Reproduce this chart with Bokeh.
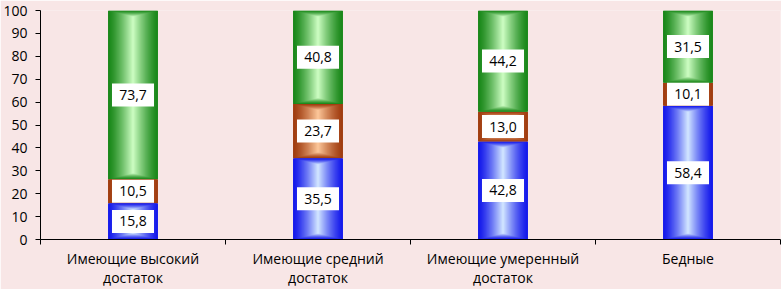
from bokeh.plotting import figure
from bokeh.models import FixedTicker, Range1d
from bokeh.core.properties import value
from bokeh.embed import file_html
from bokeh.resources import INLINE

categories = ["Имеющие высокий\nдостаток", "Имеющие средний\nдостаток",
              "Имеющие умеренный\nдостаток", "Бедные"]
blue_vals = [15.8, 35.5, 42.8, 58.4]
brown_vals = [10.5, 23.7, 13.0, 10.1]
green_vals = [73.7, 40.8, 44.2, 31.5]
y_ticks = list(range(0, 101, 10))

BG = "#F8E6E6"
FONT = "Open Sans"
W, H = 781, 289
L, R, T, B = 39, 1, 10, 49
BAR_W = 0.27

series = [
    (blue_vals, (20, 25, 235), (205, 225, 255)),
    (brown_vals, (160, 60, 15), (250, 195, 150)),
    (green_vals, (25, 135, 25), (200, 250, 190)),
]

p = figure(width=W, height=H, output_backend="svg", toolbar_location=None,
           x_range=Range1d(0, 4), y_range=Range1d(0, 100),
           min_border_left=L, min_border_right=R, min_border_top=T,
           min_border_bottom=B)
p.background_fill_color = BG
p.border_fill_color = BG
p.outline_line_color = None
p.xgrid.visible = False
p.ygrid.visible = False

fw = W - L - R
fh = H - T - B
px_x = 4 / fw      # data units per pixel, x
px_y = 100 / fh    # data units per pixel, y
VSTEP = 0.25       # vertical inset (px) per horizontal inset pixel

xs = [i + 0.5 for i in range(len(categories))]

segs = []
bottoms = [0.0] * len(categories)
for vals, edge, center in series:
    for i, v in enumerate(vals):
        segs.append((xs[i], bottoms[i], bottoms[i] + v, v, edge, center))
        bottoms[i] += v

half_px = int(BAR_W / px_x / 2)
for d in range(half_px):
    l, r, b, t, c = [], [], [], [], []
    for (x, y0, y1, v, edge, center) in segs:
        hpx = v / px_y
        if 2 * d * VSTEP >= hpx - 0.5:
            continue
        f = (d / (half_px - 1)) ** 1.3
        col = tuple(int(round(e + (cc - e) * f)) for e, cc in zip(edge, center))
        l.append(x - BAR_W / 2 + d * px_x)
        r.append(x + BAR_W / 2 - d * px_x)
        b.append(y0 + d * VSTEP * px_y)
        t.append(y1 - d * VSTEP * px_y)
        c.append("#%02x%02x%02x" % col)
    if l:
        p.quad(left=l, right=r, bottom=b, top=t, fill_color=c, line_color=None)

lx, ly, lt = [], [], []
for (x, y0, y1, v, edge, center) in segs:
    lx.append(x)
    ly.append((y0 + y1) / 2)
    lt.append(("%.1f" % v).replace(".", ","))
p.rect(x=lx, y=ly, width=42, height=23, width_units="screen", height_units="screen",
       fill_color="white", line_color=None)
p.text(x=lx, y=ly, text=lt, text_align="center", text_baseline="middle",
       text_font=value(FONT), text_font_size="14px", text_color="black")

ya = p.yaxis[0]
ya.ticker = FixedTicker(ticks=y_ticks)
ya.major_tick_out = 5
ya.major_tick_in = 0
ya.minor_tick_out = 0
ya.minor_tick_in = 0
ya.major_label_standoff = 8
ya.major_label_text_font = FONT
ya.major_label_text_font_size = "14px"
ya.major_label_text_color = "black"
ya.axis_line_color = "black"
ya.major_tick_line_color = "black"

xa = p.xaxis[0]
xa.ticker = FixedTicker(ticks=xs, minor_ticks=[0, 1, 2, 3, 4])
xa.major_tick_out = 0
xa.major_tick_in = 0
xa.minor_tick_out = 5
xa.minor_tick_in = 0
xa.minor_tick_line_color = "black"
xa.major_label_overrides = {x: c for x, c in zip(xs, categories)}
xa.major_label_standoff = 4
xa.major_label_text_line_height = 1.0
xa.major_label_text_font = FONT
xa.major_label_text_font_size = "14px"
xa.major_label_text_color = "black"
xa.axis_line_color = "black"

open("out.html", "w").write(file_html(p, INLINE))
